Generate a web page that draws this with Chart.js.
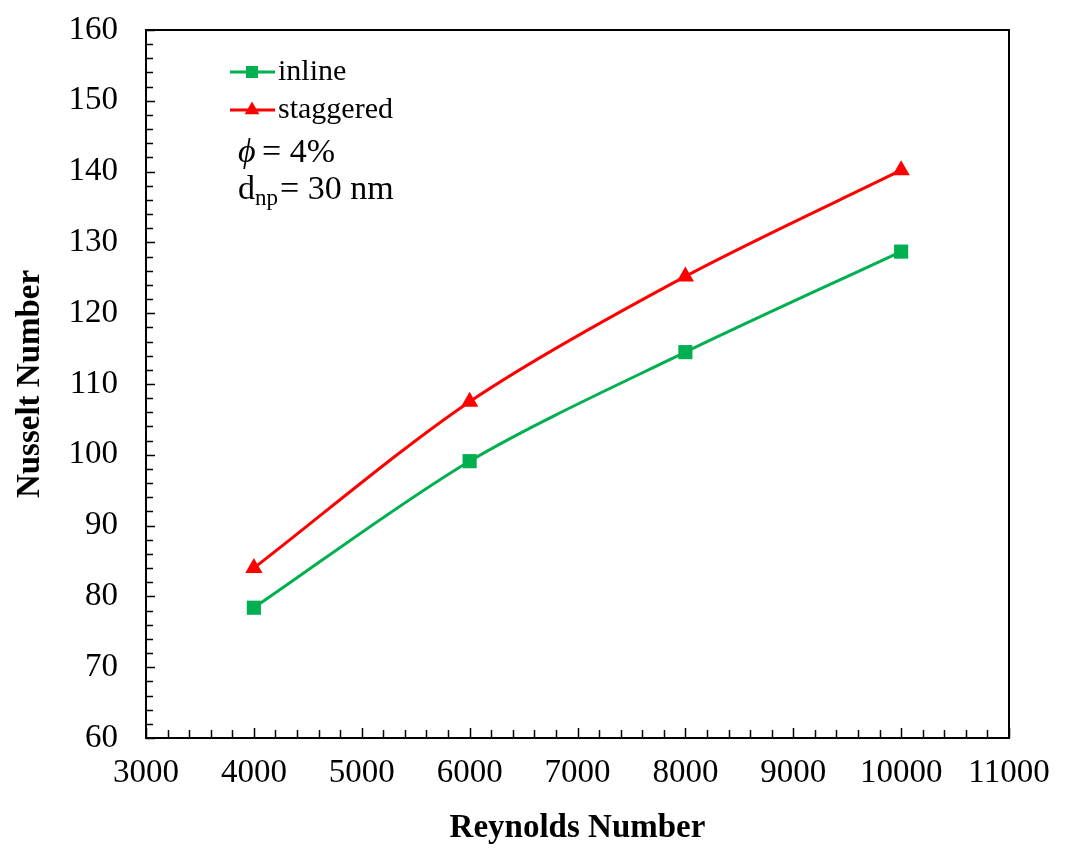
<!DOCTYPE html>
<html>
<head>
<meta charset="utf-8">
<script src="https://cdn.jsdelivr.net/npm/chart.js@4.4.1/dist/chart.umd.min.js"></script>
<style>
  html, body { margin: 0; padding: 0; background: #fff; }
  #wrap { width: 1067px; height: 852px; }
</style>
</head>
<body>
<div id="wrap"><canvas id="chartNu" width="1067" height="852"></canvas></div>
<script>
// values
const reynolds = [4000, 6000, 8000, 10000];
const nuInline = [78.4, 99.1, 114.5, 128.7];
const nuStaggered = [84.0, 107.5, 125.2, 140.2];
const seriesNames = ['inline', 'staggered'];
const seriesColors = ['#00B050', '#FF0000'];

const FONT = "'Liberation Serif', 'Times New Roman', serif";

// inward ticks, box border, legend and notes
const decor = {
    id: 'decor',
    afterDraw(chart) {
        const ctx = chart.ctx;
        const a = chart.chartArea;
        const xs = chart.scales.x, ys = chart.scales.y;
        ctx.save();
        ctx.strokeStyle = '#000';
        ctx.lineWidth = 1.5;
        ctx.beginPath();
        xs.ticks.forEach(t => {
            const px = Math.round(xs.getPixelForValue(t.value)) + 0.5;
            const len = t.value % 1000 === 0 ? 10 : 8;
            ctx.moveTo(px, a.bottom);
            ctx.lineTo(px, a.bottom - len);
        });
        ys.ticks.forEach(t => {
            const py = Math.round(ys.getPixelForValue(t.value)) + 0.5;
            const len = t.value % 10 === 0 ? 9 : 7;
            ctx.moveTo(a.left, py);
            ctx.lineTo(a.left + len, py);
        });
        ctx.stroke();
        ctx.lineWidth = 2;
        ctx.strokeRect(a.left, a.top, a.right - a.left, a.bottom - a.top);

        // legend
        const lx = a.left + 84, ly = a.top + 42;
        ctx.font = '30px ' + FONT;
        ctx.textBaseline = 'middle';
        chart.data.datasets.forEach((ds, i) => {
            const y = ly + i * 38;
            ctx.strokeStyle = ds.borderColor;
            ctx.lineWidth = 3;
            ctx.beginPath();
            ctx.moveTo(lx, y);
            ctx.lineTo(lx + 45, y);
            ctx.stroke();
            ctx.fillStyle = ds.backgroundColor;
            Chart.helpers.drawPoint(ctx, {
                pointStyle: ds.pointStyle, radius: 8.5, rotation: 0, borderWidth: 0
            }, lx + 22, y);
            ctx.fillStyle = '#000';
            ctx.fillText(ds.label, lx + 48, y);
        });

        ctx.fillStyle = '#000';
        ctx.textBaseline = 'alphabetic';
        ctx.font = 'italic 34px ' + FONT;
        ctx.fillText('\u03d5', a.left + 92, a.top + 132);
        ctx.font = '34px ' + FONT;
        ctx.fillText('= 4%', a.left + 116, a.top + 132);
        ctx.fillText('d', a.left + 92, a.top + 169);
        ctx.font = '23px ' + FONT;
        ctx.fillText('np', a.left + 109, a.top + 175);
        ctx.font = '34px ' + FONT;
        ctx.fillText('= 30 nm', a.left + 134, a.top + 169);
        ctx.restore();
    }
};

const ctx = document.getElementById('chartNu').getContext('2d');
const chart = new Chart(ctx, {
    type: 'line',
    data: {
        datasets: [{
            label: seriesNames[0],
            data: reynolds.map((r, i) => ({ x: r, y: nuInline[i] })),
            borderColor: seriesColors[0],
            backgroundColor: seriesColors[0],
            borderWidth: 3,
            pointStyle: 'rect',
            pointRadius: 10,
            pointBorderWidth: 0,
            tension: 0.3
        }, {
            label: seriesNames[1],
            data: reynolds.map((r, i) => ({ x: r, y: nuStaggered[i] })),
            borderColor: seriesColors[1],
            backgroundColor: seriesColors[1],
            borderWidth: 3,
            pointStyle: 'triangle',
            pointRadius: 10,
            pointBorderWidth: 0,
            tension: 0.3
        }]
    },
    options: {
        responsive: false,
        animation: false,
        layout: { padding: { top: 30, right: 58, left: 0, bottom: 0 } },
        plugins: { legend: { display: false }, tooltip: { enabled: false } },
        scales: {
            x: {
                type: 'linear',
                min: 3000, max: 11000,
                afterFit(s) { s.height = 114; s.paddingLeft = 0; s.paddingRight = 0; },
                grid: { display: false, drawTicks: false },
                border: { display: false },
                ticks: {
                    stepSize: 200, autoSkip: false, maxRotation: 0,
                    padding: 16,
                    color: '#000',
                    font: { family: FONT, size: 33 },
                    callback: v => (v % 1000 === 0 ? String(v) : '')
                },
                title: {
                    display: true, text: 'Reynolds Number', color: '#000',
                    font: { family: FONT, size: 33, weight: 'bold' },
                    padding: { top: 8, bottom: 4 }
                }
            },
            y: {
                min: 60, max: 160,
                afterFit(s) { s.width = 146; s.paddingTop = 0; s.paddingBottom = 0; },
                grid: { display: false, drawTicks: false },
                border: { display: false },
                ticks: {
                    stepSize: 2, autoSkip: false,
                    padding: 28,
                    color: '#000',
                    font: { family: FONT, size: 33 },
                    callback: v => (v % 10 === 0 ? String(v) : '')
                },
                title: {
                    display: true, text: 'Nusselt Number', color: '#000',
                    font: { family: FONT, size: 33, weight: 'bold' },
                    padding: { top: 11, bottom: 0 }
                }
            }
        }
    },
    plugins: [decor]
});
</script>
</body>
</html>
